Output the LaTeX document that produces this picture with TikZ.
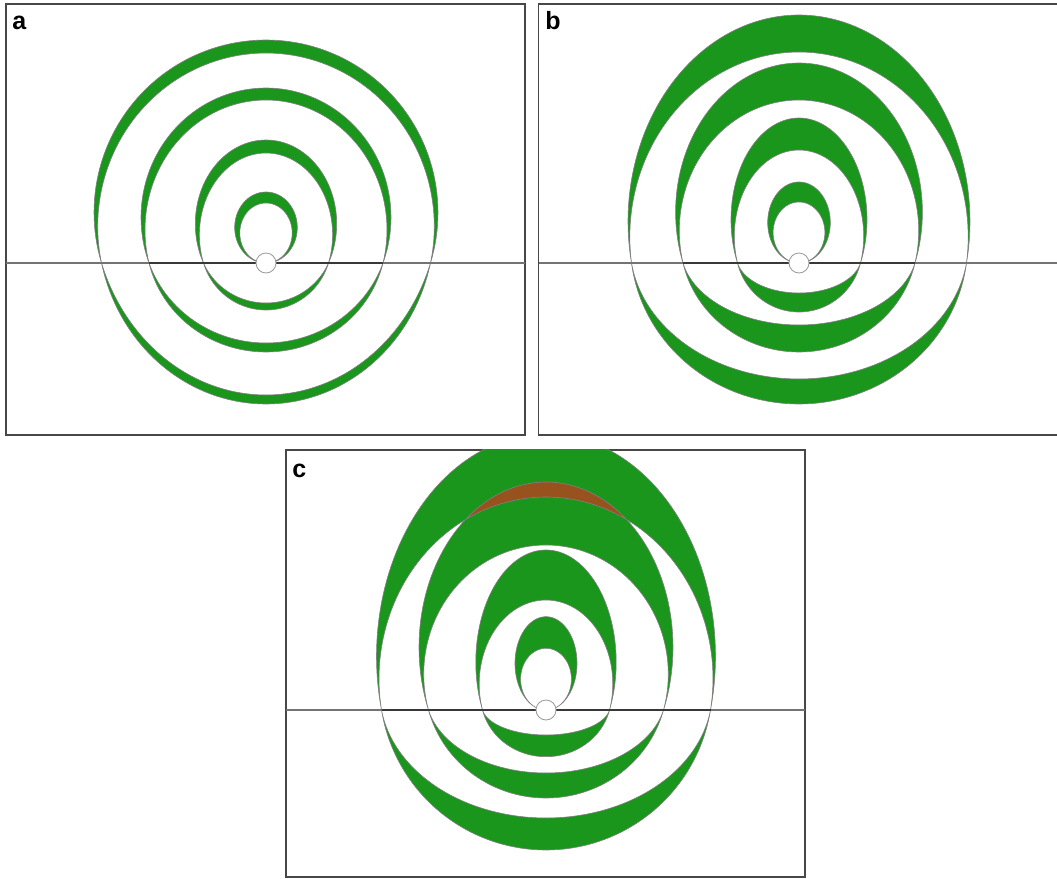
\documentclass[tikz,border=0pt]{standalone}
\usepackage{fontspec}
\setmainfont{Liberation Sans}
\definecolor{bandgreen}{RGB}{26,150,28}
\definecolor{lensbrown}{RGB}{152,82,30}
% #1 macro, #2 cx, #3 y0 (line), #4 half-width at line, #5 top, #6 max half-width, #7 bottom
\newcommand\defcurve[7]{%
  \pgfmathsetmacro\cvk{sqrt(1-(#4/#6)^2)}%
  \pgfmathsetmacro\cvry{(#3-(#5))/(1+\cvk)}%
  \pgfmathsetmacro\cvyc{#5+\cvry}%
  \pgfmathsetmacro\cvs{(#6/\cvry)*(#6/#4)*\cvk}%
  \pgfmathsetmacro\cvD{#7-(#3)}%
  \pgfmathsetmacro\cvh{\cvs*\cvD*(\cvD/(#4-2*\cvs*\cvD))}%
  \pgfmathsetmacro\cvb{\cvD+\cvh}%
  \pgfmathsetmacro\cvv{\cvh/\cvb}%
  \pgfmathsetmacro\cva{#4/sqrt(1-\cvv^2)}%
  \pgfmathsetmacro\cvc{#3-\cvh}%
  \pgfmathsetmacro\cvta{acos(-\cvk)}%
  \pgfmathsetmacro\cvua{acos(-\cvv)}%
  \pgfmathsetmacro\cvub{360-\cvua}%
  \xdef#1{plot[domain=-\cvta:\cvta,samples=100,variable=\noexpand\x] ({#2+#6*sin(\noexpand\x)},{\cvyc-\cvry*cos(\noexpand\x)}) -- plot[domain=\cvua:\cvub,samples=100,variable=\noexpand\x] ({#2+\cva*sin(\noexpand\x)},{\cvc-\cvb*cos(\noexpand\x)}) -- cycle}%
}
% #1 macro, #2 cx, #3 y0 (bottom), #4 top, #5 half-width
\newcommand\defegg[5]{%
  \pgfmathsetmacro\cvry{(#3-(#4))/2}%
  \pgfmathsetmacro\cvyc{#4+\cvry}%
  \xdef#1{plot[domain=0:360,samples=120,variable=\noexpand\x] ({#2+#5*sin(\noexpand\x)},{\cvyc-\cvry*cos(\noexpand\x)}) -- cycle}%
}
\begin{document}
\begin{tikzpicture}[x=0.5pt,y=-0.5pt,
  bandfill/.style={fill=bandgreen, even odd rule},
  bandline/.style={draw=black!50, line width=0.3pt},
  frame/.style={draw=black!72, line width=0.85pt},
  axisline/.style={draw=black!55, line width=0.55pt},
  axisdark/.style={draw=black!78, line width=0.55pt},
  source/.style={circle, draw=black!40, fill=white, line width=0.4pt, minimum size=10pt, inner sep=0pt},
  panellabel/.style={anchor=base west, inner sep=0pt, font=\fontsize{12.5}{15}\selectfont\bfseries}]
\useasboundingbox (0,0) rectangle (1057,879);
% ---- curves, panel a
\defcurve\aAone{266}{263}{164.5}{40}{172}{395}
\defcurve\aBone{266}{263}{164.5}{53}{168.3}{404}
\defcurve\aAtwo{266}{263}{117}{88}{125}{343}
\defcurve\aBtwo{266}{263}{117}{100}{121}{352}
\defcurve\aAthree{266}{263}{62.5}{140}{70.7}{303}
\defcurve\aBthree{266}{263}{62.5}{153}{66.6}{310}
\defegg\aEggO{266}{263}{192}{31.3}
\defegg\aEggI{266}{263}{203}{26.2}
% ---- panel b
\defcurve\bAone{799}{263}{167.5}{15}{171}{379}
\defcurve\bBone{799}{263}{167.5}{52}{169.2}{404}
\defcurve\bAtwo{799}{263}{116}{63}{123.4}{325}
\defcurve\bBtwo{799}{263}{116}{100}{119.7}{352}
\defcurve\bAthree{799}{263}{61.5}{118}{68}{293}
\defcurve\bBthree{799}{263}{61.5}{150}{64.7}{312}
\defegg\bEggO{799}{263}{182}{31.3}
\defegg\bEggI{799}{263}{202}{25.9}
% ---- panel c
\defcurve\cAone{546}{710}{164.5}{434}{169.5}{818}
\defcurve\cBone{546}{710}{164.5}{497}{167}{850}
\defcurve\cAtwo{546}{710}{117.5}{482}{127}{773}
\defcurve\cBtwo{546}{710}{117.5}{545}{122.3}{798}
\defcurve\cAthree{546}{710}{63.5}{550}{70.2}{735}
\defcurve\cBthree{546}{710}{63.5}{600}{66.8}{756.7}
\defegg\cEggO{546}{710}{616.7}{31}
\defegg\cEggI{546}{710}{648.3}{25.4}

% ================= panel a
\draw[frame] (6,4) rectangle (525,435);
\begin{scope}
  \clip (6,4) rectangle (525,435);
  \path[bandfill] \aAone \aBone;
  \path[bandfill] \aAtwo \aBtwo;
  \path[bandfill] \aAthree \aBthree;
  \path[bandfill] \aEggO \aEggI;
  \path[bandline] \aAone \aBone \aAtwo \aBtwo \aAthree \aBthree \aEggO \aEggI;
\end{scope}
\draw[axisline] (6,263) -- (525,263);
\draw[axisdark] (149,263) -- (383,263);
\node[source] (srcA) at (266,263) {};
\node[panellabel] (labA) at (12,29) {a};

% ================= panel b
\draw[frame] (538.5,4) rectangle (1062,435);
\begin{scope}
  \clip (538.5,4) rectangle (1062,435);
  \path[bandfill] \bAone \bBone;
  \path[bandfill] \bAtwo \bBtwo;
  \path[bandfill] \bAthree \bBthree;
  \path[bandfill] \bEggO \bEggI;
  \path[bandline] \bAone \bBone \bAtwo \bBtwo \bAthree \bBthree \bEggO \bEggI;
\end{scope}
\draw[axisline] (538.5,263) -- (1062,263);
\draw[axisdark] (683,263) -- (915,263);
\node[source] (srcB) at (799,263) {};
\node[panellabel] (labB) at (545,29) {b};

% ================= panel c
\draw[frame] (286,450) rectangle (805,877);
\begin{scope}
  \clip (286,449) rectangle (805,877);
  \path[bandfill] \cAone \cBone;
  \path[bandfill] \cAtwo \cBtwo;
  \path[bandfill] \cAthree \cBthree;
  \path[bandfill] \cEggO \cEggI;
  \begin{scope}
    \clip \cAtwo;
    \fill[lensbrown, even odd rule] (286,449) rectangle (805,877) \cBone;
  \end{scope}
  \path[bandline] \cAone \cBone \cAtwo \cBtwo \cAthree \cBthree \cEggO \cEggI;
\end{scope}
\draw[axisline] (286,710) -- (805,710);
\draw[axisdark] (381.5,710) -- (710.5,710);
\node[source] (srcC) at (546,710) {};
\node[panellabel] (labC) at (292,477) {c};
\end{tikzpicture}
\end{document}
